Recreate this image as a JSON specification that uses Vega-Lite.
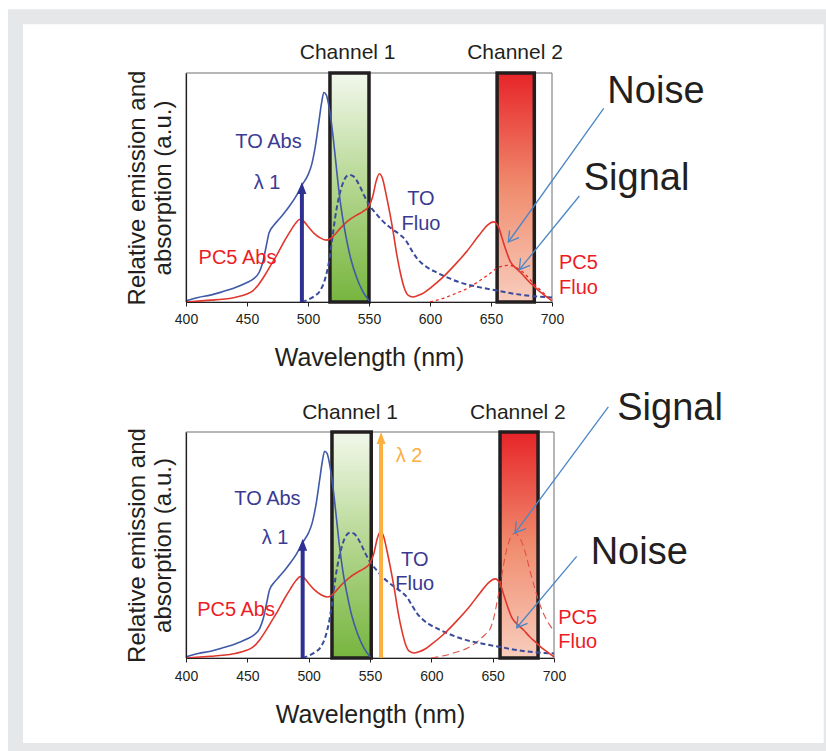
{
  "$schema": "https://vega.github.io/schema/vega-lite/v6.json",
  "background": "white",
  "padding": {"left": 7, "top": 9, "right": 0, "bottom": 0},
  "bounds": "flush",
  "spacing": 130,
  "config": {
    "font": "Liberation Sans",
    "view": {"stroke": null},
    "axis": {"grid": false, "titleFontWeight": "normal", "titleColor": "#231f20", "domainColor": "#231f20", "domainWidth": 1.2},
    "axisX": {"labelFlush": false, "labelFontSize": 14, "labelColor": "#231f20", "tickColor": "#231f20", "tickSize": 4, "labelPadding": 6, "titleFontSize": 25, "titlePadding": 19},
    "axisY": {"labels": false, "ticks": false, "titleFontSize": 24, "titlePadding": 11, "titleLineHeight": 26}
  },
  "datasets": {
    "grayframe": [{"x": 254.098, "x2": 1100, "y": 1.2782, "y2": -3}],
    "whiteframe": [{"x": 266.393, "x2": 922.7, "y": 1.21266, "y2": -1.92576}],
    "plotbox": [{"x": 400, "x2": 700, "y": 0, "y2": 1}],
    "ch1_p1": [{"x": 518, "x2": 550, "y": 0, "y2": 1}],
    "ch2_p1": [{"x": 655, "x2": 685.5, "y": 0, "y2": 1}],
    "ch1_p2": [{"x": 519, "x2": 551, "y": 0, "y2": 1}],
    "ch2_p2": [{"x": 656, "x2": 687, "y": 0, "y2": 1}],
    "to_abs": [
      {"x": 400, "y": 0.005}, {"x": 410, "y": 0.02}, {"x": 420, "y": 0.03}, {"x": 430, "y": 0.045},
      {"x": 440, "y": 0.062}, {"x": 450, "y": 0.085}, {"x": 455, "y": 0.1}, {"x": 460, "y": 0.13},
      {"x": 463, "y": 0.175}, {"x": 466, "y": 0.25}, {"x": 468, "y": 0.3},
      {"x": 472, "y": 0.335}, {"x": 476, "y": 0.36}, {"x": 480, "y": 0.385}, {"x": 485, "y": 0.42},
      {"x": 490, "y": 0.46}, {"x": 495, "y": 0.51}, {"x": 500, "y": 0.555}, {"x": 503, "y": 0.6},
      {"x": 506, "y": 0.68}, {"x": 509, "y": 0.79}, {"x": 511, "y": 0.865}, {"x": 513, "y": 0.915},
      {"x": 515, "y": 0.905}, {"x": 517, "y": 0.86}, {"x": 519, "y": 0.79}, {"x": 521, "y": 0.7},
      {"x": 523, "y": 0.6}, {"x": 525, "y": 0.5}, {"x": 528, "y": 0.38}, {"x": 531, "y": 0.29},
      {"x": 535, "y": 0.19}, {"x": 540, "y": 0.105}, {"x": 545, "y": 0.045}, {"x": 550, "y": 0.005}
    ],
    "to_fluo": [
      {"x": 495, "y": 0.0}, {"x": 500, "y": 0.01}, {"x": 505, "y": 0.025}, {"x": 510, "y": 0.05},
      {"x": 514, "y": 0.1}, {"x": 517, "y": 0.17}, {"x": 520, "y": 0.28}, {"x": 522, "y": 0.36},
      {"x": 525, "y": 0.45}, {"x": 528, "y": 0.51}, {"x": 531, "y": 0.545}, {"x": 534, "y": 0.555},
      {"x": 537, "y": 0.55}, {"x": 540, "y": 0.53}, {"x": 543, "y": 0.5}, {"x": 546, "y": 0.465},
      {"x": 549, "y": 0.435}, {"x": 552, "y": 0.41}, {"x": 556, "y": 0.385}, {"x": 560, "y": 0.36},
      {"x": 565, "y": 0.335}, {"x": 570, "y": 0.315}, {"x": 575, "y": 0.295}, {"x": 580, "y": 0.27},
      {"x": 584, "y": 0.235}, {"x": 588, "y": 0.2}, {"x": 593, "y": 0.17}, {"x": 598, "y": 0.15},
      {"x": 605, "y": 0.13}, {"x": 615, "y": 0.105}, {"x": 625, "y": 0.085}, {"x": 640, "y": 0.065},
      {"x": 655, "y": 0.05}, {"x": 670, "y": 0.035}, {"x": 685, "y": 0.025}, {"x": 700, "y": 0.02}
    ],
    "pc5_abs": [
      {"x": 400, "y": 0.0}, {"x": 420, "y": 0.008}, {"x": 430, "y": 0.012}, {"x": 440, "y": 0.02},
      {"x": 450, "y": 0.035}, {"x": 455, "y": 0.05}, {"x": 460, "y": 0.08}, {"x": 465, "y": 0.12},
      {"x": 470, "y": 0.165}, {"x": 475, "y": 0.21}, {"x": 480, "y": 0.26}, {"x": 485, "y": 0.305},
      {"x": 490, "y": 0.345}, {"x": 493, "y": 0.36}, {"x": 496, "y": 0.355}, {"x": 500, "y": 0.33},
      {"x": 505, "y": 0.3}, {"x": 510, "y": 0.28}, {"x": 515, "y": 0.27}, {"x": 518, "y": 0.275},
      {"x": 522, "y": 0.295}, {"x": 527, "y": 0.325}, {"x": 533, "y": 0.355}, {"x": 540, "y": 0.38},
      {"x": 545, "y": 0.395}, {"x": 550, "y": 0.42}, {"x": 553, "y": 0.46}, {"x": 556, "y": 0.53},
      {"x": 558.5, "y": 0.56}, {"x": 561, "y": 0.54}, {"x": 564, "y": 0.47}, {"x": 567, "y": 0.39},
      {"x": 570, "y": 0.3}, {"x": 573, "y": 0.2}, {"x": 576, "y": 0.12}, {"x": 579, "y": 0.06},
      {"x": 582, "y": 0.03}, {"x": 586, "y": 0.022}, {"x": 590, "y": 0.028}, {"x": 595, "y": 0.04},
      {"x": 600, "y": 0.06}, {"x": 610, "y": 0.105}, {"x": 620, "y": 0.16}, {"x": 630, "y": 0.22},
      {"x": 640, "y": 0.29}, {"x": 647, "y": 0.335}, {"x": 652, "y": 0.35}, {"x": 656, "y": 0.33},
      {"x": 659, "y": 0.28}, {"x": 662, "y": 0.23}, {"x": 666, "y": 0.175}, {"x": 670, "y": 0.15},
      {"x": 675, "y": 0.125}, {"x": 680, "y": 0.095}, {"x": 685, "y": 0.07}, {"x": 690, "y": 0.045},
      {"x": 695, "y": 0.025}, {"x": 700, "y": 0.005}
    ],
    "pc5_fluo_p1": [
      {"x": 600, "y": 0.0}, {"x": 610, "y": 0.015}, {"x": 620, "y": 0.035}, {"x": 630, "y": 0.058},
      {"x": 640, "y": 0.09}, {"x": 648, "y": 0.12}, {"x": 655, "y": 0.148}, {"x": 660, "y": 0.158},
      {"x": 665, "y": 0.16}, {"x": 670, "y": 0.152}, {"x": 675, "y": 0.135}, {"x": 680, "y": 0.11},
      {"x": 685, "y": 0.08}, {"x": 690, "y": 0.055}, {"x": 695, "y": 0.03}, {"x": 700, "y": 0.008}
    ],
    "pc5_fluo_p2": [
      {"x": 600, "y": 0.0}, {"x": 610, "y": 0.01}, {"x": 620, "y": 0.025}, {"x": 630, "y": 0.045},
      {"x": 638, "y": 0.075}, {"x": 644, "y": 0.105}, {"x": 648, "y": 0.13}, {"x": 651, "y": 0.18},
      {"x": 654, "y": 0.26}, {"x": 657, "y": 0.35}, {"x": 660, "y": 0.445}, {"x": 663, "y": 0.51},
      {"x": 666, "y": 0.545}, {"x": 668.5, "y": 0.552}, {"x": 671, "y": 0.54}, {"x": 674, "y": 0.51},
      {"x": 677, "y": 0.46}, {"x": 680, "y": 0.395}, {"x": 684, "y": 0.315}, {"x": 688, "y": 0.245},
      {"x": 692, "y": 0.19}, {"x": 696, "y": 0.15}, {"x": 700, "y": 0.12}
    ],
    "lambda1_p1": [{"x": 495, "y": 0, "y2": 0.524}],
    "lambda1_tip_p1": [{"x": 495, "y": 0.524}],
    "lambda1_p2": [{"x": 495.1, "y": 0, "y2": 0.528}],
    "lambda1_tip_p2": [{"x": 495.1, "y": 0.528}],
    "lambda2_p2": [{"x": 559, "y": 0, "y2": 1.0}],
    "lambda2_tip_p2": [{"x": 559, "y": 1.0}],
    "notes_p1": [
      {"x": 742.4, "y": 0.845, "x2": 664.2, "y2": 0.262},
      {"x": 722.4, "y": 0.463, "x2": 673.2, "y2": 0.141}
    ],
    "notes_tip_p1": [{"x": 664.2, "y": 0.262}, {"x": 673.2, "y": 0.141}],
    "notes_p2": [
      {"x": 744.3, "y": 1.111, "x2": 668.2, "y2": 0.553},
      {"x": 718.5, "y": 0.45, "x2": 669.6, "y2": 0.134}
    ],
    "notes_tip_p2": [{"x": 668.2, "y": 0.553}, {"x": 669.6, "y": 0.134}],
    "chan_txt_p1": [{"x": 532.5, "y": 1.063, "t": "Channel 1"}, {"x": 669.7, "y": 1.063, "t": "Channel 2"}],
    "chan_txt_p2": [{"x": 533.7, "y": 1.059, "t": "Channel 1"}, {"x": 670.6, "y": 1.059, "t": "Channel 2"}],
    "to_txt_p1": [{"x": 467.6, "y": 0.672, "t": "TO Abs"}, {"x": 466.4, "y": 0.495, "t": "λ 1"}, {"x": 592.6, "y": 0.422, "t": "TO\nFluo"}],
    "to_txt_p2": [{"x": 466.4, "y": 0.679, "t": "TO Abs"}, {"x": 472.6, "y": 0.506, "t": "λ 1"}, {"x": 586.5, "y": 0.406, "t": "TO\nFluo"}],
    "pc5_txt_p1": [{"x": 442.2, "y": 0.168, "t": "PC5 Abs"}, {"x": 721.7, "y": 0.146, "t": "PC5\nFluo"}],
    "pc5_txt_p2": [{"x": 440.8, "y": 0.185, "t": "PC5 Abs"}, {"x": 719.3, "y": 0.152, "t": "PC5\nFluo"}],
    "l2_txt_p2": [{"x": 581.8, "y": 0.867, "t": "λ 2"}],
    "big_txt_p1": [{"x": 785.2, "y": 0.868, "t": "Noise"}, {"x": 769.3, "y": 0.488, "t": "Signal"}],
    "big_txt_p2": [{"x": 794.6, "y": 1.055, "t": "Signal"}, {"x": 769.5, "y": 0.418, "t": "Noise"}]
  },
  "vconcat": [
    {
      "width": 366,
      "height": 229,
      "encoding": {
        "x": {"field": "x", "type": "quantitative",
          "scale": {"domain": [400, 700], "nice": false, "zero": false},
          "axis": {"values": [400, 450, 500, 550, 600, 650, 700], "title": "Wavelength (nm)", "zindex": 2}},
        "y": {"field": "y", "type": "quantitative",
          "scale": {"domain": [0, 1], "nice": false, "zero": false},
          "axis": {"title": ["Relative emission and", "absorption (a.u.)"], "zindex": 2}}
      },
      "layer": [
        {"data": {"name": "grayframe"}, "mark": {"type": "rect", "fill": "#e6e7e8"}, "encoding": {"x2": {"field": "x2"}, "y2": {"field": "y2"}}},
        {"data": {"name": "whiteframe"}, "mark": {"type": "rect", "fill": "#ffffff"}, "encoding": {"x2": {"field": "x2"}, "y2": {"field": "y2"}}},
        {"data": {"name": "plotbox"}, "mark": {"type": "rect", "fillOpacity": 0, "stroke": "#6d6e71", "strokeWidth": 1}, "encoding": {"x2": {"field": "x2"}, "y2": {"field": "y2"}}},
        {"data": {"name": "ch1_p1"}, "mark": {"type": "rect", "stroke": "#231f20", "strokeWidth": 3.5,
          "fill": {"gradient": "linear", "x1": 0, "y1": 0, "x2": 0, "y2": 1, "stops": [{"offset": 0, "color": "#f2f8ec"}, {"offset": 0.5, "color": "#b4d68f"}, {"offset": 1, "color": "#76b53e"}]}},
          "encoding": {"x2": {"field": "x2"}, "y2": {"field": "y2"}}},
        {"data": {"name": "ch2_p1"}, "mark": {"type": "rect", "stroke": "#231f20", "strokeWidth": 3.5,
          "fill": {"gradient": "linear", "x1": 0, "y1": 0, "x2": 0, "y2": 1, "stops": [{"offset": 0, "color": "#e72429"}, {"offset": 0.5, "color": "#f08c6e"}, {"offset": 1, "color": "#f8cdbd"}]}},
          "encoding": {"x2": {"field": "x2"}, "y2": {"field": "y2"}}},
        {"data": {"name": "pc5_fluo_p1"}, "mark": {"type": "line", "interpolate": "monotone", "color": "#ee2a24", "strokeWidth": 1.3, "strokeDash": [3, 3]}},
        {"data": {"name": "to_fluo"}, "mark": {"type": "line", "interpolate": "monotone", "color": "#3a4b9b", "strokeWidth": 2, "strokeDash": [5, 3]}},
        {"data": {"name": "pc5_abs"}, "mark": {"type": "line", "interpolate": "monotone", "color": "#e0362c", "strokeWidth": 1.6}},
        {"data": {"name": "to_abs"}, "mark": {"type": "line", "interpolate": "monotone", "color": "#4059a9", "strokeWidth": 1.6}},
        {"data": {"name": "lambda1_p1"}, "mark": {"type": "rule", "color": "#2e3192", "strokeWidth": 4, "y2Offset": 8}, "encoding": {"y2": {"field": "y2"}}},
        {"data": {"name": "lambda1_tip_p1"}, "mark": {"type": "point", "shape": "M0,0L0.75,2L-0.75,2Z", "size": 144, "filled": true, "opacity": 1, "color": "#2e3192"}},
        {"data": {"name": "notes_p1"}, "mark": {"type": "rule", "color": "#4a86c6", "strokeWidth": 1.3}, "encoding": {"x2": {"field": "x2"}, "y2": {"field": "y2"}}},
        {"data": {"name": "notes_tip_p1"}, "mark": {"type": "point", "shape": "M-0.6,1L0,0L0.6,1", "size": 400, "filled": false, "opacity": 1, "color": "#4a86c6", "strokeWidth": 1.3, "angle": 217}},
        {"data": {"name": "chan_txt_p1"}, "mark": {"type": "text", "fontSize": 21, "color": "#231f20", "align": "center", "baseline": "alphabetic"}, "encoding": {"text": {"field": "t"}}},
        {"data": {"name": "to_txt_p1"}, "mark": {"type": "text", "fontSize": 20, "color": "#3a3a92", "align": "center", "baseline": "alphabetic", "lineBreak": "\n", "lineHeight": 25}, "encoding": {"text": {"field": "t"}}},
        {"data": {"name": "pc5_txt_p1"}, "mark": {"type": "text", "fontSize": 20, "color": "#ed1c24", "align": "center", "baseline": "alphabetic", "lineBreak": "\n", "lineHeight": 25}, "encoding": {"text": {"field": "t"}}},
        {"data": {"name": "big_txt_p1"}, "mark": {"type": "text", "fontSize": 38, "color": "#231f20", "align": "center", "baseline": "alphabetic"}, "encoding": {"text": {"field": "t"}}}
      ]
    },
    {
      "width": 368,
      "height": 226,
      "encoding": {
        "x": {"field": "x", "type": "quantitative",
          "scale": {"domain": [400, 700], "nice": false, "zero": false},
          "axis": {"values": [400, 450, 500, 550, 600, 650, 700], "title": "Wavelength (nm)", "labelPadding": 7, "zindex": 2}},
        "y": {"field": "y", "type": "quantitative",
          "scale": {"domain": [0, 1], "nice": false, "zero": false},
          "axis": {"title": ["Relative emission and", "absorption (a.u.)"], "zindex": 2}}
      },
      "layer": [
        {"data": {"name": "plotbox"}, "mark": {"type": "rect", "fillOpacity": 0, "stroke": "#6d6e71", "strokeWidth": 1}, "encoding": {"x2": {"field": "x2"}, "y2": {"field": "y2"}}},
        {"data": {"name": "ch1_p2"}, "mark": {"type": "rect", "stroke": "#231f20", "strokeWidth": 3.5,
          "fill": {"gradient": "linear", "x1": 0, "y1": 0, "x2": 0, "y2": 1, "stops": [{"offset": 0, "color": "#f2f8ec"}, {"offset": 0.5, "color": "#b4d68f"}, {"offset": 1, "color": "#76b53e"}]}},
          "encoding": {"x2": {"field": "x2"}, "y2": {"field": "y2"}}},
        {"data": {"name": "ch2_p2"}, "mark": {"type": "rect", "stroke": "#231f20", "strokeWidth": 3.5,
          "fill": {"gradient": "linear", "x1": 0, "y1": 0, "x2": 0, "y2": 1, "stops": [{"offset": 0, "color": "#e72429"}, {"offset": 0.5, "color": "#f08c6e"}, {"offset": 1, "color": "#f8cdbd"}]}},
          "encoding": {"x2": {"field": "x2"}, "y2": {"field": "y2"}}},
        {"data": {"name": "pc5_fluo_p2"}, "mark": {"type": "line", "interpolate": "monotone", "color": "#e0504a", "strokeWidth": 1.1, "strokeDash": [7, 4]}},
        {"data": {"name": "to_fluo"}, "mark": {"type": "line", "interpolate": "monotone", "color": "#3a4b9b", "strokeWidth": 2, "strokeDash": [5, 3]}},
        {"data": {"name": "pc5_abs"}, "mark": {"type": "line", "interpolate": "monotone", "color": "#e0362c", "strokeWidth": 1.6}},
        {"data": {"name": "to_abs"}, "mark": {"type": "line", "interpolate": "monotone", "color": "#4059a9", "strokeWidth": 1.6}},
        {"data": {"name": "lambda1_p2"}, "mark": {"type": "rule", "color": "#2e3192", "strokeWidth": 4, "y2Offset": 8}, "encoding": {"y2": {"field": "y2"}}},
        {"data": {"name": "lambda1_tip_p2"}, "mark": {"type": "point", "shape": "M0,0L0.75,2L-0.75,2Z", "size": 144, "filled": true, "opacity": 1, "color": "#2e3192"}},
        {"data": {"name": "lambda2_p2"}, "mark": {"type": "rule", "color": "#fbb040", "strokeWidth": 4, "y2Offset": 8}, "encoding": {"y2": {"field": "y2"}}},
        {"data": {"name": "lambda2_tip_p2"}, "mark": {"type": "point", "shape": "M0,0L0.75,2L-0.75,2Z", "size": 144, "filled": true, "opacity": 1, "color": "#fbb040"}},
        {"data": {"name": "notes_p2"}, "mark": {"type": "rule", "color": "#4a86c6", "strokeWidth": 1.3}, "encoding": {"x2": {"field": "x2"}, "y2": {"field": "y2"}}},
        {"data": {"name": "notes_tip_p2"}, "mark": {"type": "point", "shape": "M-0.6,1L0,0L0.6,1", "size": 400, "filled": false, "opacity": 1, "color": "#4a86c6", "strokeWidth": 1.3, "angle": 217}},
        {"data": {"name": "chan_txt_p2"}, "mark": {"type": "text", "fontSize": 21, "color": "#231f20", "align": "center", "baseline": "alphabetic"}, "encoding": {"text": {"field": "t"}}},
        {"data": {"name": "to_txt_p2"}, "mark": {"type": "text", "fontSize": 20, "color": "#3a3a92", "align": "center", "baseline": "alphabetic", "lineBreak": "\n", "lineHeight": 24}, "encoding": {"text": {"field": "t"}}},
        {"data": {"name": "l2_txt_p2"}, "mark": {"type": "text", "fontSize": 20, "color": "#fbb040", "align": "center", "baseline": "alphabetic"}, "encoding": {"text": {"field": "t"}}},
        {"data": {"name": "pc5_txt_p2"}, "mark": {"type": "text", "fontSize": 20, "color": "#ed1c24", "align": "center", "baseline": "alphabetic", "lineBreak": "\n", "lineHeight": 24}, "encoding": {"text": {"field": "t"}}},
        {"data": {"name": "big_txt_p2"}, "mark": {"type": "text", "fontSize": 38, "color": "#231f20", "align": "center", "baseline": "alphabetic"}, "encoding": {"text": {"field": "t"}}}
      ]
    }
  ]
}
